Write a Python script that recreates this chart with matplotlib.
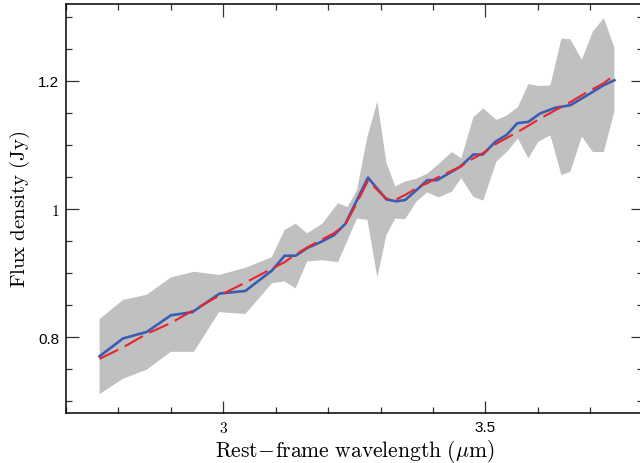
import matplotlib
matplotlib.use("Agg")
import matplotlib.pyplot as plt
from matplotlib.ticker import MultipleLocator

plt.rcParams["font.family"] = ["Liberation Sans", "DejaVu Sans"]
plt.rcParams["mathtext.fontset"] = "cm"

# ------------------------------------------------------------------ #
# data
# ------------------------------------------------------------------ #
# observed spectrum (blue) and model (red dashed)
wave = [2.764, 2.809, 2.854, 2.900, 2.941, 2.993, 3.042, 3.093, 3.117, 3.138,
        3.160, 3.185, 3.211, 3.233, 3.252, 3.276, 3.311, 3.330, 3.347, 3.376,
        3.389, 3.408, 3.452, 3.477, 3.495, 3.519, 3.541, 3.561, 3.582, 3.604,
        3.633, 3.662, 3.693, 3.725, 3.746]
flux = [0.770, 0.798, 0.808, 0.834, 0.839, 0.868, 0.872, 0.904, 0.927, 0.927,
        0.939, 0.948, 0.959, 0.977, 1.009, 1.049, 1.015, 1.012, 1.014, 1.035,
        1.045, 1.045, 1.066, 1.085, 1.085, 1.105, 1.116, 1.134, 1.136, 1.149,
        1.158, 1.162, 1.177, 1.193, 1.201]
model = [0.766, 0.784, 0.805, 0.822, 0.841, 0.865, 0.885, 0.907, 0.917, 0.929,
         0.940, 0.951, 0.962, 0.976, 1.005, 1.044, 1.016, 1.015, 1.022, 1.036,
         1.040, 1.049, 1.066, 1.079, 1.087, 1.101, 1.111, 1.120, 1.130, 1.141,
         1.154, 1.167, 1.182, 1.196, 1.209]

# grey uncertainty envelope
band_wave = [2.764, 2.809, 2.854, 2.900, 2.944, 2.992, 3.042, 3.093, 3.117, 3.138,
             3.160, 3.189, 3.219, 3.237, 3.255, 3.275, 3.294, 3.311, 3.328, 3.347,
             3.368, 3.389, 3.411, 3.436, 3.454, 3.477, 3.496, 3.521, 3.541, 3.562,
             3.582, 3.601, 3.624, 3.645, 3.662, 3.684, 3.705, 3.726, 3.746]
band_hi = [0.828, 0.858, 0.866, 0.893, 0.902, 0.897, 0.908, 0.925, 0.967, 0.977,
           0.962, 0.977, 1.009, 1.003, 1.029, 1.113, 1.168, 1.073, 1.035, 1.043,
           1.047, 1.055, 1.070, 1.089, 1.079, 1.143, 1.157, 1.139, 1.146, 1.159,
           1.195, 1.192, 1.193, 1.266, 1.265, 1.233, 1.277, 1.298, 1.252]
band_lo = [0.711, 0.735, 0.749, 0.777, 0.777, 0.839, 0.836, 0.884, 0.887, 0.876,
           0.918, 0.920, 0.917, 0.951, 0.985, 0.983, 0.893, 0.959, 0.985, 0.984,
           1.011, 1.026, 1.018, 1.027, 1.048, 1.019, 1.013, 1.074, 1.089, 1.110,
           1.079, 1.105, 1.115, 1.053, 1.058, 1.113, 1.089, 1.089, 1.152]

x_major = [3, 3.5]
x_labels = ["$3$", "3.5"]
y_major = [0.8, 1.0, 1.2]
y_labels = ["0.8", "$1$", "1.2"]

# ------------------------------------------------------------------ #
fig = plt.figure(figsize=(6.4, 4.64), dpi=100)
ax = fig.add_axes([0.1031, 0.1071, 0.9011, 0.8821])

ax.fill(band_wave + band_wave[::-1], band_hi + band_lo[::-1],
        color="#c0c0c0", lw=0, zorder=1)
ax.plot(wave, flux, color="#3a5cb2", lw=1.9, zorder=2)
ax.plot(wave, model, color="#e8242c", lw=1.5, dashes=(10, 3.5), zorder=3)

ax.set_xlim(2.7, 3.8)
ax.set_ylim(0.681, 1.32)

ax.set_xticks(x_major, labels=x_labels, fontsize=11)
ax.set_yticks(y_major, labels=y_labels, fontsize=11)
ax.xaxis.set_minor_locator(MultipleLocator(0.1))
ax.yaxis.set_minor_locator(MultipleLocator(0.05))
ax.tick_params(which="both", direction="in", top=True, right=True,
               color="#333333", width=0.9)
ax.tick_params(which="major", length=9, pad=5)
ax.tick_params(which="minor", length=4.5)

for s in ax.spines.values():
    s.set_linewidth(1.1)

ax.set_xlabel(r"$\mathrm{Rest\!-\!frame\ wavelength\ (}\mu\mathrm{m)}$",
              fontsize=15.5, labelpad=1)
ax.set_ylabel(r"$\mathrm{Flux\ density\ (Jy)}$", fontsize=15, labelpad=4)

plt.savefig("out.png", dpi=100)
print("Saved out.png")
